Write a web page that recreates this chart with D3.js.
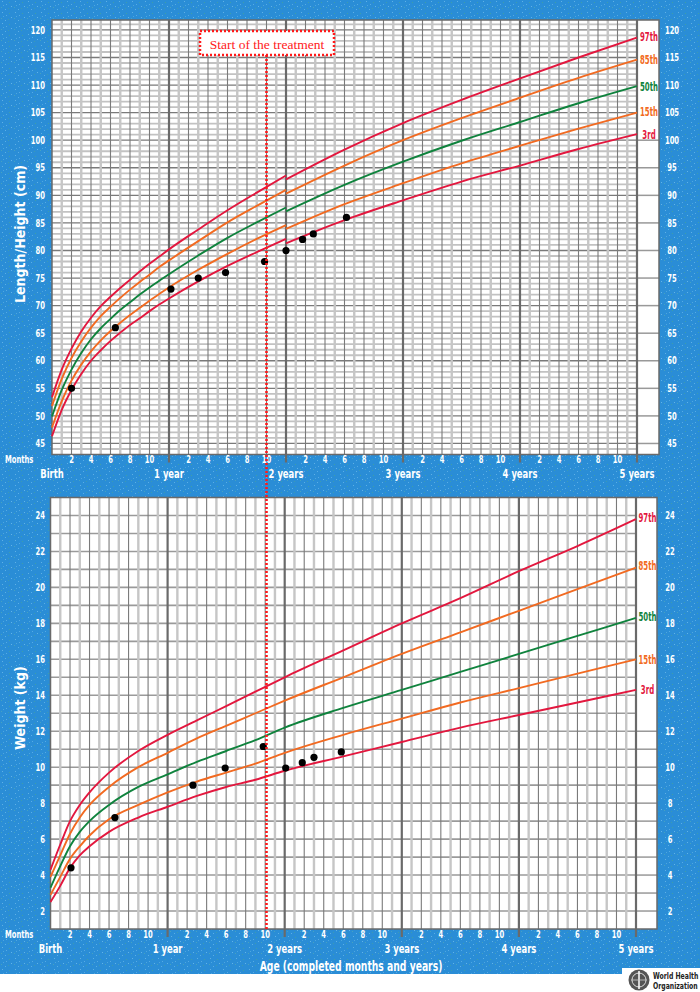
<!DOCTYPE html>
<html>
<head>
<meta charset="utf-8">
<script src="https://cdnjs.cloudflare.com/ajax/libs/d3/7.8.5/d3.min.js"></script>
<style>
  body { margin: 0; background: #fff; }
  svg { display: block; }
  .lbl { font-family: "DejaVu Sans Condensed", "DejaVu Sans", sans-serif; font-weight: bold; fill: #fff; }
  .pct { font-family: "DejaVu Sans Condensed", "DejaVu Sans", sans-serif; font-weight: bold; font-size: 12.5px; }
</style>
</head>
<body>
<svg id="chart" width="700" height="992"></svg>
<script>
// ages (months) at which the reference curves were read
var monthsLen = [0, 1, 2, 3, 4, 5, 6, 7, 8, 9, 10, 11, 12, 15, 18, 21, 24];
var monthsHt = [24, 30, 36, 42, 48, 54, 60];
var monthsWt = [0, 1, 2, 3, 4, 6, 9, 12, 15, 18, 21, 24, 30, 36, 42, 48, 54, 60];

// length (lying, 0-2 y), cm
var len3 = [46.3, 51.1, 54.7, 57.6, 60.0, 61.9, 63.6, 65.1, 66.5, 67.7, 69.0, 70.2, 71.3, 74.4, 77.2, 79.7, 82.1];
var len15 = [47.9, 52.7, 56.4, 59.3, 61.7, 63.7, 65.4, 66.9, 68.3, 69.6, 70.9, 72.1, 73.3, 76.5, 79.4, 82.1, 84.6];
var len50 = [49.9, 54.7, 58.4, 61.4, 63.9, 65.9, 67.6, 69.2, 70.6, 72.0, 73.3, 74.5, 75.7, 79.1, 82.3, 85.1, 87.8];
var len85 = [51.8, 56.7, 60.5, 63.5, 66.0, 68.1, 69.8, 71.4, 72.9, 74.3, 75.6, 77.0, 78.2, 81.7, 85.1, 88.1, 91.0];
var len97 = [53.4, 58.4, 62.2, 65.3, 67.8, 69.9, 71.6, 73.2, 74.7, 76.2, 77.6, 78.9, 80.2, 83.8, 87.3, 90.5, 93.6];

// height (standing, 2-5 y), cm
var ht3 = [81.3, 85.5, 89.1, 92.5, 95.4, 98.4, 101.1];
var ht15 = [83.9, 88.4, 92.2, 95.8, 99.0, 102.1, 105.0];
var ht50 = [87.1, 91.9, 96.1, 99.9, 103.3, 106.7, 109.8];
var ht85 = [90.3, 95.4, 100.0, 104.0, 107.7, 111.3, 114.6];
var ht97 = [92.9, 98.3, 103.1, 107.3, 111.2, 115.0, 118.6];

// weight, kg
var wt3 = [2.5, 3.4, 4.4, 5.1, 5.6, 6.4, 7.2, 7.8, 8.4, 8.9, 9.3, 9.8, 10.6, 11.4, 12.2, 12.9, 13.6, 14.3];
var wt15 = [2.9, 3.9, 4.9, 5.6, 6.2, 7.1, 7.9, 8.6, 9.2, 9.7, 10.2, 10.8, 11.8, 12.7, 13.6, 14.4, 15.2, 16.0];
var wt50 = [3.3, 4.5, 5.6, 6.4, 7.0, 7.9, 8.9, 9.6, 10.3, 10.9, 11.5, 12.2, 13.3, 14.3, 15.3, 16.3, 17.3, 18.3];
var wt85 = [3.9, 5.1, 6.3, 7.2, 7.9, 8.9, 10.0, 10.8, 11.6, 12.3, 13.0, 13.7, 15.0, 16.3, 17.5, 18.7, 19.9, 21.1];
var wt97 = [4.3, 5.7, 7.0, 7.9, 8.6, 9.7, 10.9, 11.8, 12.6, 13.4, 14.2, 15.0, 16.5, 18.0, 19.4, 20.9, 22.3, 23.8];

// the child's measurements
var visitLenAge = [2, 6.5, 12.2, 15, 17.8, 21.8, 24, 25.7, 26.8, 30.2];
var visitLen = [55, 66, 73, 75, 76, 78, 80, 82, 83, 86];
var visitWtAge = [2.1, 6.6, 14.6, 17.9, 21.8, 24.1, 25.8, 27.0, 29.8];
var visitWt = [4.4, 7.2, 9.0, 9.95, 11.15, 9.95, 10.25, 10.55, 10.85];

var treatmentAge = 22;

var pctNames = ["3rd", "15th", "50th", "85th", "97th"];
var pctColors = ["#e3173e", "#f26a21", "#0f833d", "#f26a21", "#e3173e"];
var lenTicks = d3.range(45, 121, 5);
var wtTicks = d3.range(2, 25, 2);
var monthTicks = [2, 4, 6, 8, 10];
var yearLabels = ["Birth", "1 year", "2 years", "3 years", "4 years", "5 years"];

var svg = d3.select("#chart");
var W = 700, H = 992;

// squeeze the bold labels to the narrow face of the original
function narrow(x, y, k) {
  return "translate(" + x + "," + y + ") scale(" + (k || 0.72) + ",1)";
}

// blue speckled background
var defs = svg.append("defs");
var pat = defs.append("pattern")
  .attr("id", "speck")
  .attr("width", 13)
  .attr("height", 11)
  .attr("patternUnits", "userSpaceOnUse");
pat.append("rect").attr("width", 13).attr("height", 11).attr("fill", "#2a8dd6");
[[2, 1, "#5fb0e6"], [9, 2, "#3f9fa6"], [6, 4, "#56aae4"], [11, 6, "#62b3e8"],
 [1, 7, "#47a2be"], [5, 9, "#5aaee6"], [8, 8, "#3c9bb0"], [3, 5, "#4da6e0"]].forEach(function(s) {
  pat.append("rect").attr("x", s[0]).attr("y", s[1]).attr("width", 1).attr("height", 1).attr("fill", s[2]);
});

svg.append("rect").attr("width", W).attr("height", H).attr("fill", "#fff");
svg.append("rect").attr("width", W).attr("height", 974).attr("fill", "url(#speck)");

var pTop = {
  x: d3.scaleLinear().domain([0, 60]).range([52, 637]),
  y: d3.scaleLinear().domain([43, 121.8]).range([454.5, 20]),
  colRight: 659
};
var pBot = {
  x: d3.scaleLinear().domain([0, 60]).range([50.5, 636]),
  y: d3.scaleLinear().domain([1, 25]).range([929, 497.5]),
  colRight: 657
};

function drawGrid(p, hVals, hStyle, colLines) {
  var g = svg.append("g");
  var x0 = p.x.range()[0], x1 = p.x.range()[1];
  var y0 = p.y.range()[1], y1 = p.y.range()[0];

  g.append("rect")
    .attr("x", x0).attr("y", y0)
    .attr("width", p.colRight - x0).attr("height", y1 - y0)
    .attr("fill", "#fff");

  // horizontal
  g.selectAll(".h")
    .data(hVals)
    .enter()
    .append("line")
    .attr("x1", x0).attr("x2", x1)
    .attr("y1", d => p.y(d)).attr("y2", d => p.y(d))
    .attr("stroke", d => hStyle(d)[0])
    .attr("stroke-width", d => hStyle(d)[1]);

  // lines that continue into the label column
  g.selectAll(".hc")
    .data(colLines)
    .enter()
    .append("line")
    .attr("x1", x1).attr("x2", p.colRight)
    .attr("y1", d => p.y(d)).attr("y2", d => p.y(d))
    .attr("stroke", "#999")
    .attr("stroke-width", 1.5);

  // vertical: months
  var months = d3.range(1, 60);
  g.selectAll(".v")
    .data(months.filter(m => m % 12 != 0))
    .enter()
    .append("line")
    .attr("x1", d => p.x(d)).attr("x2", d => p.x(d))
    .attr("y1", y0).attr("y2", y1)
    .attr("stroke", d => d % 2 ? "#c6c6c6" : "#7a7a7a")
    .attr("stroke-width", d => d % 2 ? 2.4 : 1.1);

  g.selectAll(".vy")
    .data([12, 24, 36, 48, 60])
    .enter()
    .append("line")
    .attr("x1", d => p.x(d)).attr("x2", d => p.x(d))
    .attr("y1", y0).attr("y2", y1 + 8)
    .attr("stroke", "#6a6a6a")
    .attr("stroke-width", 2.2);

  g.append("rect")
    .attr("x", x0).attr("y", y0)
    .attr("width", p.colRight - x0).attr("height", y1 - y0)
    .attr("fill", "none")
    .attr("stroke", "#6a6a6a")
    .attr("stroke-width", 1.5);
}

drawGrid(pTop, d3.range(44, 122, 1), d => d % 5 == 0 ? ["#7a7a7a", 1.3] : ["#c2c2c2", 1.8], d3.range(45, 101, 5));
drawGrid(pBot, d3.range(2, 25, 1), d => ["#9a9a9a", 1.6], d3.range(2, 13, 1));

function curves(p, ages, series) {
  var line = d3.line()
    .x((d, i) => p.x(ages[i]))
    .y(d => p.y(d))
    .curve(d3.curveMonotoneX);
  svg.append("g")
    .selectAll("path")
    .data(series)
    .enter()
    .append("path")
    .attr("d", d => line(d))
    .attr("fill", "none")
    .attr("stroke", (d, i) => pctColors[i])
    .attr("stroke-width", 1.9);
}

curves(pTop, monthsLen, [len3, len15, len50, len85, len97]);
curves(pTop, monthsHt, [ht3, ht15, ht50, ht85, ht97]);
curves(pBot, monthsWt, [wt3, wt15, wt50, wt85, wt97]);

function pctLabels(p, ends, shift) {
  var cx = (p.x.range()[1] + p.colRight) / 2 + 1;
  svg.append("g")
    .selectAll("text")
    .data(pctNames)
    .enter()
    .append("text")
    .attr("class", "pct")
    .attr("transform", (d, i) => narrow(cx, p.y(ends[i]) + shift[i], 0.62))
    .attr("dy", "0.35em")
    .attr("text-anchor", "middle")
    .attr("fill", (d, i) => pctColors[i])
    .text(d => d);
}
pctLabels(pTop, [ht3[6], ht15[6], ht50[6], ht85[6], ht97[6]], [0, -1, 0, 0, -1]);
pctLabels(pBot, [wt3[17], wt15[17], wt50[17], wt85[17], wt97[17]], [0, 0, -1, -2, -1]);

function dots(p, ages, vals) {
  svg.append("g")
    .selectAll("circle")
    .data(vals)
    .enter()
    .append("circle")
    .attr("cx", (d, i) => p.x(ages[i]))
    .attr("cy", d => p.y(d))
    .attr("r", 3.6)
    .attr("fill", "#000");
}
dots(pTop, visitLenAge, visitLen);
dots(pBot, visitWtAge, visitWt);

function axisLabels(p, ticks, monthY, yearY) {
  var g = svg.append("g").attr("class", "lbl");
  g.selectAll(".yl")
    .data(ticks)
    .enter()
    .append("text")
    .attr("transform", d => narrow(45, p.y(d)))
    .attr("dy", "0.35em")
    .attr("text-anchor", "end")
    .style("font-size", "10.5px")
    .text(d => d);
  g.selectAll(".yr")
    .data(ticks)
    .enter()
    .append("text")
    .attr("transform", d => narrow(p.colRight + 13, p.y(d)))
    .attr("dy", "0.35em")
    .attr("text-anchor", "middle")
    .style("font-size", "10.5px")
    .text(d => d);

  var mLabs = [];
  for (var yr = 0; yr < 5; yr++) {
    monthTicks.forEach(m => mLabs.push({ m: yr * 12 + m, t: m }));
  }
  g.selectAll(".ml")
    .data(mLabs)
    .enter()
    .append("text")
    .attr("transform", d => narrow(p.x(d.m), monthY))
    .attr("dy", "0.35em")
    .attr("text-anchor", "middle")
    .style("font-size", "10.5px")
    .text(d => d.t);
  g.append("text")
    .attr("transform", narrow(5, monthY))
    .attr("dy", "0.35em")
    .style("font-size", "10.5px")
    .text("Months");
  g.selectAll(".yrl")
    .data(yearLabels)
    .enter()
    .append("text")
    .attr("transform", (d, i) => narrow(p.x(i * 12), yearY))
    .attr("dy", "0.35em")
    .attr("text-anchor", "middle")
    .style("font-size", "13px")
    .text(d => d);
}
axisLabels(pTop, lenTicks, 459.5, 473);
axisLabels(pBot, wtTicks, 934, 948);

svg.append("text")
  .attr("class", "lbl")
  .attr("transform", "translate(20,234) rotate(-90)")
  .attr("text-anchor", "middle")
  .attr("dy", "0.35em")
  .style("font-size", "14px")
  .text("Length/Height (cm)");
svg.append("text")
  .attr("class", "lbl")
  .attr("transform", "translate(20,708) rotate(-90)")
  .attr("text-anchor", "middle")
  .attr("dy", "0.35em")
  .style("font-size", "14px")
  .text("Weight (kg)");
svg.append("text")
  .attr("class", "lbl")
  .attr("transform", narrow(351, 966, 0.76))
  .attr("dy", "0.35em")
  .attr("text-anchor", "middle")
  .style("font-size", "13.5px")
  .text("Age (completed months and years)");

// start of treatment marker
var tx = pTop.x(treatmentAge);
svg.append("line")
  .attr("x1", tx).attr("x2", tx)
  .attr("y1", 55).attr("y2", 929)
  .attr("stroke", "#ff1a1a")
  .attr("stroke-width", 2.6)
  .attr("stroke-dasharray", "2,2");
svg.append("rect")
  .attr("x", 200).attr("y", 31)
  .attr("width", 134).attr("height", 24)
  .attr("fill", "#fff")
  .attr("stroke", "#ff1a1a")
  .attr("stroke-width", 2.5)
  .attr("stroke-dasharray", "2,2");
svg.append("text")
  .attr("x", 267)
  .attr("y", 44)
  .attr("dy", "0.35em")
  .attr("text-anchor", "middle")
  .attr("fill", "#ff1a1a")
  .style("font-family", "'Liberation Serif', 'DejaVu Serif', serif")
  .style("font-size", "13.5px")
  .text("Start of the treatment");

// WHO logo
var logo = svg.append("g");
logo.append("rect").attr("x", 622).attr("y", 968).attr("width", 78).attr("height", 24).attr("fill", "#fff");
logo.append("circle").attr("cx", 639).attr("cy", 980).attr("r", 10.5).attr("fill", "#555");
logo.append("circle").attr("cx", 639).attr("cy", 980).attr("r", 7).attr("fill", "none").attr("stroke", "#ddd").attr("stroke-width", 1);
logo.append("line").attr("x1", 639).attr("x2", 639).attr("y1", 971).attr("y2", 989).attr("stroke", "#fff").attr("stroke-width", 1.5);
logo.append("line").attr("x1", 631).attr("x2", 647).attr("y1", 980).attr("y2", 980).attr("stroke", "#ccc").attr("stroke-width", 0.8);
logo.selectAll(".who")
  .data(["World Health", "Organization"])
  .enter()
  .append("text")
  .attr("transform", (d, i) => narrow(653, 979 + i * 10, 0.72))
  .attr("fill", "#222")
  .style("font-family", "'DejaVu Sans Condensed', 'DejaVu Sans', sans-serif")
  .style("font-weight", "bold")
  .style("font-size", "9.5px")
  .text(d => d);
</script>
</body>
</html>
